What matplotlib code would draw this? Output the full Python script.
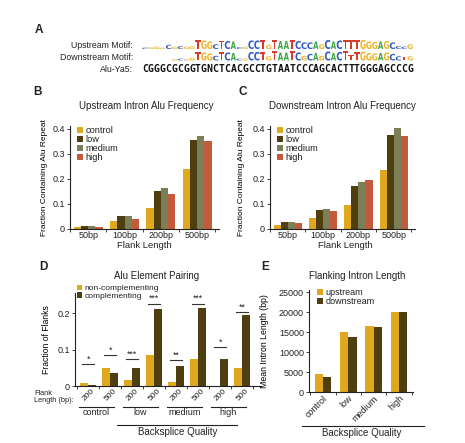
import matplotlib
matplotlib.use('Agg')
import matplotlib.pyplot as plt
from matplotlib.textpath import TextPath
from matplotlib.patches import PathPatch
from matplotlib.font_manager import FontProperties
from matplotlib.transforms import Affine2D
import numpy as np

plt.rcParams['font.family'] = ['Liberation Sans', 'DejaVu Sans']
plt.rcParams['text.color'] = '#222222'

W, H = 465, 443

#######################
# Data
# Panel A - motifs aligned to Alu-Ya5 (one letter per position, height = information)
alu_ya5 = 'CGGGCGCGGTGNCTCACGCCTGTAATCCCAGCACTTTGGGAGCCCG'
up_motif = 'CGGGCGCGGTGGCTCACGCCTGTAATCCCAGCACTTTGGGAGCCCG'
up_height = [0.15, 0.2, 0.25, 0.15, 0.45, 0.25, 0.3, 0.25, 0.3,
             0.95, 0.9, 0.8, 0.5, 0.85, 0.85, 0.8, 0.2, 0.25,
             0.9, 0.9, 0.9, 0.45, 0.95, 0.85, 0.85, 0.95, 0.85, 0.7, 0.7, 0.8, 0.5,
             0.95, 0.8, 0.9, 0.95, 0.9, 0.9, 0.95, 0.8, 0.75, 0.8, 0.85, 0.7, 0.3, 0.25, 0.5]
down_motif = '     GCGGTGGCTCACGCCTGTAATCGCAGCACTTTGGGAGCCTG'
down_height = [0, 0, 0, 0, 0, 0.15, 0.2, 0.15, 0.3,
               0.9, 0.85, 0.75, 0.5, 0.85, 0.85, 0.8, 0.2, 0.2,
               0.9, 0.9, 0.9, 0.45, 0.95, 0.85, 0.85, 0.95, 0.85, 0.5, 0.7, 0.8, 0.5,
               0.95, 0.8, 0.9, 0.95, 0.6, 0.9, 0.95, 0.8, 0.75, 0.8, 0.85, 0.7, 0.45, 0.4, 0.45]

# Panels B and C - fraction containing Alu repeat, rows = backsplice quality
flank_lengths = ['50bp', '100bp', '200bp', '500bp']
qualities = ['control', 'low', 'medium', 'high']
upstream_freq = [[0.008, 0.030, 0.085, 0.240],
                 [0.013, 0.053, 0.150, 0.353],
                 [0.010, 0.052, 0.162, 0.370],
                 [0.007, 0.038, 0.139, 0.349]]
downstream_freq = [[0.016, 0.042, 0.095, 0.236],
                   [0.026, 0.076, 0.173, 0.375],
                   [0.026, 0.080, 0.186, 0.403],
                   [0.022, 0.072, 0.196, 0.372]]

# Panel D - Alu element pairing
pair_flanks = ['200', '500', '200', '500', '200', '500', '200', '500']
non_complementing = [0.008, 0.048, 0.016, 0.085, 0.012, 0.075, 0.0, 0.049]
complementing = [0.003, 0.036, 0.048, 0.210, 0.055, 0.215, 0.074, 0.195]
sig_level = [0.059, 0.084, 0.073, 0.224, 0.070, 0.226, 0.106, 0.202]
sig_stars = ['*', '*', '***', '***', '**', '***', '*', '**']

# Panel E - mean flanking intron length (bp)
intron_upstream = [4400, 15000, 16400, 20000]
intron_downstream = [3830, 13830, 16250, 20000]

#######################
GOLD = '#E0A81E'
DARK = '#4E3E10'
OLIVE = '#7C7E57'
RED = '#C25A3B'
quality_colors = [GOLD, DARK, OLIVE, RED]
LOGO_COLORS = {'A': '#3BA542', 'C': '#2F5BC4', 'G': '#EBB52A', 'T': '#D63B2B'}

fig = plt.figure(figsize=(W / 100, H / 100), dpi=100)


def px_axes(left, top, right, bottom):
    return fig.add_axes([left / W, 1 - bottom / H, (right - left) / W, (bottom - top) / H])


def ftext(x, y, s, **kw):
    kw.setdefault('ha', 'center')
    kw.setdefault('va', 'center')
    fig.text(x / W, 1 - y / H, s, **kw)


def style(ax):
    for s in ['top', 'right']:
        ax.spines[s].set_visible(False)
    for s in ['left', 'bottom']:
        ax.spines[s].set_linewidth(0.8)
        ax.spines[s].set_color('#222222')
    ax.tick_params(labelsize=6.5, length=2.5, width=0.6, pad=1.2, colors='#222222')


def boundary_ticks(ax, n):
    ax.set_xticks(np.arange(n + 1) - 0.5, minor=True)
    ax.tick_params(axis='x', which='major', length=0)
    ax.tick_params(axis='x', which='minor', length=2.5, width=0.6, colors='#222222')


def small_legend(ax, anchor, size):
    ax.legend(loc='upper left', bbox_to_anchor=anchor, frameon=False, fontsize=size,
              handlelength=0.6, handleheight=0.6, handletextpad=0.3, labelspacing=0.0,
              borderpad=0, borderaxespad=0)


#######################
# Panel A - sequence logos
logo_font = FontProperties(family='DejaVu Sans', weight='bold')


def draw_logo(ax, letters, heights, base, row_height):
    for i, (ch, h) in enumerate(zip(letters, heights)):
        if ch == ' ' or h <= 0:
            continue
        tp = TextPath((0, 0), ch, size=1, prop=logo_font)
        bb = tp.get_extents()
        tr = (Affine2D().translate(-bb.x0, -bb.y0)
              .scale(0.9 / bb.width, h * row_height / bb.height)
              .translate(i + 0.05, base))
        ax.add_patch(PathPatch(tr.transform_path(tp), color=LOGO_COLORS[ch], lw=0))


axA = px_axes(142, 36, 413, 74)
axA.set_xlim(0, len(alu_ya5))
axA.set_ylim(0, 38)
axA.axis('off')
draw_logo(axA, up_motif, up_height, 74 - 49, 9.5)
draw_logo(axA, down_motif, down_height, 74 - 60.5, 9.5)
for i, ch in enumerate(alu_ya5):
    axA.text(i + 0.5, 74 - 69, ch, ha='center', va='center', fontsize=7,
             family='DejaVu Sans Mono', fontweight='bold', color='#111111')

ftext(39, 30, 'A', fontsize=8.5, fontweight='bold')
ftext(133, 45, 'Upstream Motif:', fontsize=6.3, ha='right')
ftext(133, 57, 'Downstream Motif:', fontsize=6.3, ha='right')
ftext(133, 69, 'Alu-Ya5:', fontsize=6.3, ha='right')

#######################
# Panels B and C
bw = 0.2


def alu_freq_panel(ax, freq):
    x = np.arange(len(flank_lengths))
    for k, q in enumerate(qualities):
        ax.bar(x + (k - 1.5) * bw, freq[k], width=bw, color=quality_colors[k], label=q)
    style(ax)
    ax.set_xlim(-0.48, 3.6)
    ax.set_ylim(0, 0.41)
    ax.set_yticks([0, 0.1, 0.2, 0.3, 0.4])
    ax.set_yticklabels(['0', '0.1', '0.2', '0.3', '0.4'])
    ax.set_xticks(x)
    ax.set_xticklabels(flank_lengths)
    boundary_ticks(ax, len(flank_lengths))
    small_legend(ax, (0.05, 1.0), 6.7)


axB = px_axes(70, 126, 219, 229)
alu_freq_panel(axB, upstream_freq)
axB.set_ylabel('Fraction Containing Alu Repeat', fontsize=6)
axB.yaxis.set_label_coords(-0.15, 0.5)
ftext(37, 92, 'B', fontsize=8.5, fontweight='bold')
ftext(146, 106, 'Upstream Intron Alu Frequency', fontsize=7.0)
ftext(144, 246, 'Flank Length', fontsize=6.8)

axC = px_axes(270, 126, 415, 229)
alu_freq_panel(axC, downstream_freq)
axC.set_ylabel('Fraction Containing Alu Repeat', fontsize=6)
axC.yaxis.set_label_coords(-0.17, 0.5)
ftext(243, 92, 'C', fontsize=8.5, fontweight='bold')
ftext(342, 106, 'Downstream Intron Alu Frequency', fontsize=7.0)
ftext(345, 246, 'Flank Length', fontsize=6.8)

#######################
# Panel D
axD = px_axes(75, 293, 261, 386)
xd = np.arange(len(pair_flanks))
bwd = 0.36
axD.bar(xd - bwd / 2, non_complementing, width=bwd, color=GOLD, label='non-complementing')
axD.bar(xd + bwd / 2, complementing, width=bwd, color=DARK, label='complementing')
style(axD)
axD.set_xlim(-0.6, 7.85)
axD.set_ylim(0, 0.255)
axD.set_yticks([0, 0.1, 0.2])
axD.set_yticklabels(['0', '0.1', '0.2'])
axD.set_xticks(xd)
axD.set_xticklabels(pair_flanks, rotation=45, fontsize=6)
boundary_ticks(axD, len(pair_flanks))
small_legend(axD, (0.01, 1.09), 6.0)
for i in xd:
    axD.plot([i - 0.27, i + 0.27], [sig_level[i], sig_level[i]], color='#333333', lw=0.8)
    axD.text(i, sig_level[i] + 0.003, sig_stars[i], ha='center', va='bottom', fontsize=6.3)
axD.set_ylabel('Fraction of Flanks', fontsize=6.2)
axD.yaxis.set_label_coords(-0.13, 0.5)

tr = axD.get_xaxis_transform()
for g, name in enumerate(qualities):
    axD.plot([2 * g - 0.4, 2 * g + 1.15], [-0.226, -0.226], transform=tr, clip_on=False,
             color='#222222', lw=0.8)
    axD.text(2 * g + 0.37, -0.29, name, transform=tr, ha='center', va='center', fontsize=6.5)
axD.plot([1.32, 6.77], [-0.42, -0.42], transform=tr, clip_on=False, color='#222222', lw=0.8)
axD.text(4.05, -0.495, 'Backsplice Quality', transform=tr, ha='center', va='center', fontsize=7)
ftext(34, 397, 'Flank\nLength (bp):', fontsize=5.3, ha='left', linespacing=1.0)
ftext(43, 267, 'D', fontsize=8.5, fontweight='bold')
ftext(157, 276, 'Alu Element Pairing', fontsize=7.0)

#######################
# Panel E
axE = px_axes(309, 290, 413, 392)
xe = np.arange(len(qualities))
bwe = 0.33
axE.bar(xe - bwe / 2, intron_upstream, width=bwe, color=GOLD, label='upstream')
axE.bar(xe + bwe / 2, intron_downstream, width=bwe, color=DARK, label='downstream')
style(axE)
axE.set_xlim(-0.55, 3.55)
axE.set_ylim(0, 25500)
axE.set_yticks(np.arange(0, 25001, 5000))
axE.set_xticks(xe)
axE.set_xticklabels(qualities, rotation=45, ha='right', rotation_mode='anchor')
boundary_ticks(axE, len(qualities))
small_legend(axE, (0.08, 1.02), 6.5)
axE.set_ylabel('Mean Intron Length (bp)', fontsize=6.3)
axE.yaxis.set_label_coords(-0.38, 0.5)
axE.plot([-0.067, 1.106], [-0.333, -0.333], transform=axE.transAxes, clip_on=False,
         color='#222222', lw=0.8)
axE.text(0.51, -0.40, 'Backsplice Quality', transform=axE.transAxes, ha='center',
         va='center', fontsize=7)
ftext(265, 267, 'E', fontsize=8.5, fontweight='bold')
ftext(357, 276, 'Flanking Intron Length', fontsize=7.0)

fig.savefig('out.png', dpi=100)
